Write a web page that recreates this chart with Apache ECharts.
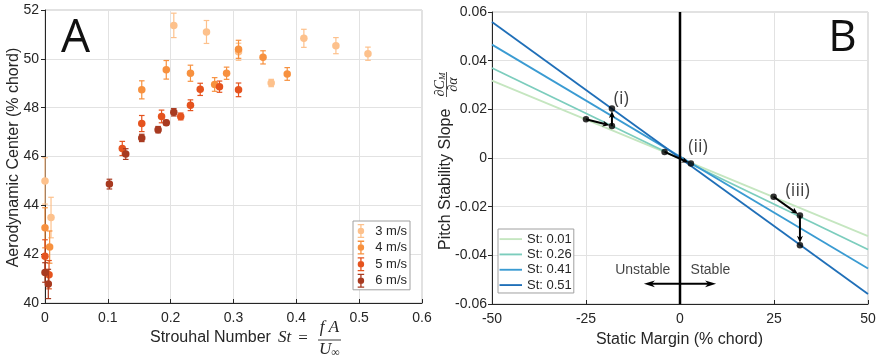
<!DOCTYPE html>
<html><head><meta charset="utf-8">
<script src="https://cdn.jsdelivr.net/npm/echarts@6/dist/echarts.min.js"></script>
<style>html,body{margin:0;padding:0;background:#fff}#c{width:881px;height:363px}</style>
</head><body><div id="c"></div>
<script>
// ---------- Panel A data ----------
const speedNames = ['3 m/s', '4 m/s', '5 m/s', '6 m/s'];
const st3  = [0, 0.0096, 0.205, 0.257, 0.308, 0.360, 0.412, 0.463, 0.514];
const ac3  = [45.0, 43.5, 51.37, 51.1, 50.29, 49.01, 50.84, 50.54, 50.21];
const err3 = [0.95, 0.83, 0.5, 0.47, 0.35, 0.15, 0.37, 0.33, 0.27];
const st4  = [0, 0.0074, 0.154, 0.193, 0.2315, 0.270, 0.289, 0.308, 0.347, 0.3855];
const ac4  = [43.08, 42.29, 48.73, 49.55, 49.41, 48.95, 49.41, 50.39, 50.06, 49.38];
const err4 = [0.82, 0.66, 0.37, 0.38, 0.33, 0.28, 0.25, 0.37, 0.27, 0.26];
const st5  = [0, 0.0064, 0.123, 0.154, 0.1855, 0.216, 0.2315, 0.247, 0.2777, 0.308];
const ac5  = [41.91, 41.16, 46.33, 47.35, 47.64, 47.64, 48.10, 48.75, 48.86, 48.73];
const err5 = [0.68, 0.58, 0.29, 0.33, 0.26, 0.14, 0.22, 0.25, 0.23, 0.28];
const st6  = [0, 0.0053, 0.1025, 0.1285, 0.154, 0.180, 0.193, 0.205];
const ac6  = [41.25, 40.78, 44.87, 46.10, 46.76, 47.10, 47.38, 47.81];
const err6 = [0.4, 0.6, 0.2, 0.22, 0.15, 0.13, 0.1, 0.15];
const xTicksA = [0, 0.1, 0.2, 0.3, 0.4, 0.5, 0.6];
const yTicksA = [40, 42, 44, 46, 48, 50, 52];

// ---------- Panel B data ----------
const stNames = ['St: 0.01', 'St: 0.26', 'St: 0.41', 'St: 0.51'];
const marginEnds = [-50, 50];
const slopeLeft  = [0.0318, 0.0370, 0.0466, 0.0559];
const slopeRight = [-0.0321, -0.0376, -0.0454, -0.0559];
const pathI   = [[-25, 0.0159], [-18.1, 0.0132], [-18.1, 0.0203]];
const pathII  = [[-4.1, 0.0025], [2.9, -0.0023]];
const pathIII = [[24.9, -0.0159], [31.9, -0.0236], [31.9, -0.0359]];
const caseLabels = [[-15.6, 0.0244, '(i)'], [4.8, 0.0046, '(ii)'], [31.3, -0.0136, '(iii)']];
const stabilityLabels = [[-9.9, -0.046, 'Unstable'], [8.1, -0.046, 'Stable']];
const stabilityArrow = [[-9.6, -0.0517], [9.6, -0.0517]];
const xTicksB = [-50, -25, 0, 25, 50];
const yTicksB = [-0.06, -0.04, -0.02, 0, 0.02, 0.04, 0.06];

// ---------- styling ----------
const FONT = '"Liberation Sans", Arial, sans-serif';
const SERIF = '"Liberation Serif", "Times New Roman", serif';
const TXT = '#262626';
const GRIDC = '#e2e2e2';
const speedColors = ['#fdc18c', '#f7913f', '#e5531e', '#a83a20'];
const stColors = ['#c5e6c0', '#7ccdbd', '#3a9bd2', '#1f6fb8'];
const ebIcon = 'path://M0,0H6V1.2H0Z M2.4,1.2H3.6V11.8H2.4Z M0,11.8H6V13H0Z M6,6.5A3,3,0,1,1,0,6.5A3,3,0,1,1,6,6.5Z';
const lineIcon = 'path://M0,0H24V2H0Z';

const chart = echarts.init(document.getElementById('c'), null, {renderer: 'canvas'});

function errRender(params, api) {
  const x = api.value(0), lo = api.value(1), hi = api.value(2);
  const p1 = api.coord([x, hi]), p2 = api.coord([x, lo]);
  const hw = 2.8;
  const style = {stroke: api.visual('color'), lineWidth: 1.2, fill: null};
  return {type: 'group', children: [
    {type: 'line', shape: {x1: p1[0], y1: p1[1], x2: p2[0], y2: p2[1]}, style: style},
    {type: 'line', shape: {x1: p1[0] - hw, y1: p1[1], x2: p1[0] + hw, y2: p1[1]}, style: style},
    {type: 'line', shape: {x1: p2[0] - hw, y1: p2[1], x2: p2[0] + hw, y2: p2[1]}, style: style}
  ]};
}

function head(t, ux, uy, len, w) {
  const nx = -uy, ny = ux;
  const b = [t[0] - ux * len, t[1] - uy * len];
  const n = [t[0] - ux * len * 0.72, t[1] - uy * len * 0.72];
  return {type: 'polygon', shape: {points: [t, [b[0] + nx * w, b[1] + ny * w], n, [b[0] - nx * w, b[1] - ny * w]]},
          style: {fill: '#000'}};
}

function arrowRender(params, api) {
  const p1 = api.coord([api.value(0), api.value(1)]);
  const p2 = api.coord([api.value(2), api.value(3)]);
  const dbl = api.value(4) === 1;
  const dx = p2[0] - p1[0], dy = p2[1] - p1[1], L = Math.hypot(dx, dy);
  const ux = dx / L, uy = dy / L;
  const len = dbl ? 11 : 7, w = dbl ? 3.4 : 3;
  const gap = dbl ? 0 : 2.5;
  const tip = [p2[0] - ux * gap, p2[1] - uy * gap];
  const start = dbl ? [p1[0] + ux * len * 0.7, p1[1] + uy * len * 0.7] : p1;
  const end = [tip[0] - ux * len * 0.7, tip[1] - uy * len * 0.7];
  const children = [
    {type: 'line', shape: {x1: start[0], y1: start[1], x2: end[0], y2: end[1]}, style: {stroke: '#000', lineWidth: 2}},
    head(tip, ux, uy, len, w)
  ];
  if (dbl) children.push(head(p1, -ux, -uy, len, w));
  return {type: 'group', children: children};
}

function segs(path) {
  const out = [];
  for (let i = 0; i < path.length - 1; i++) out.push([path[i][0], path[i][1], path[i + 1][0], path[i + 1][1], 0]);
  return out;
}

const speedSets = [[st3, ac3, err3], [st4, ac4, err4], [st5, ac5, err5], [st6, ac6, err6]];
const series = [];
speedSets.forEach(function (s, i) {
  series.push({
    type: 'custom', name: speedNames[i], xAxisIndex: 0, yAxisIndex: 0, renderItem: errRender,
    itemStyle: {color: speedColors[i]}, encode: {x: 0, y: [1, 2]}, clip: false, z: 2 + i * 2,
    data: s[0].map(function (x, j) { return [x, s[1][j] - s[2][j], s[1][j] + s[2][j]]; })
  });
  series.push({
    type: 'scatter', name: speedNames[i], xAxisIndex: 0, yAxisIndex: 0, symbol: 'circle', symbolSize: 7.5,
    itemStyle: {color: speedColors[i], opacity: 1}, clip: false, z: 3 + i * 2,
    data: s[0].map(function (x, j) { return [x, s[1][j]]; })
  });
});

stNames.forEach(function (n, i) {
  series.push({
    type: 'line', name: n, xAxisIndex: 1, yAxisIndex: 1, symbol: 'none', showSymbol: false,
    lineStyle: {color: stColors[i], width: 1.8}, itemStyle: {color: stColors[i]}, z: 2,
    data: [[marginEnds[0], slopeLeft[i]], [marginEnds[1], slopeRight[i]]]
  });
});
series.push({
  type: 'line', xAxisIndex: 1, yAxisIndex: 1, symbol: 'none', lineStyle: {color: '#000', width: 2.5}, z: 3,
  data: [[0, yTicksB[0]], [0, yTicksB[yTicksB.length - 1]]], silent: true
});
series.push({
  type: 'custom', xAxisIndex: 1, yAxisIndex: 1, renderItem: arrowRender, encode: {x: [0, 2], y: [1, 3]}, z: 4,
  data: segs(pathI).concat(segs(pathII), segs(pathIII),
        [[stabilityArrow[0][0], stabilityArrow[0][1], stabilityArrow[1][0], stabilityArrow[1][1], 1]])
});
series.push({
  type: 'scatter', xAxisIndex: 1, yAxisIndex: 1, symbol: 'circle', symbolSize: 6.5, itemStyle: {color: '#000'}, z: 5,
  data: pathI.concat(pathII, pathIII)
});
series.push({
  type: 'scatter', xAxisIndex: 1, yAxisIndex: 1, symbolSize: 0, z: 6, silent: true,
  label: {show: true, position: 'inside', formatter: function (p) { return p.value[2]; },
          fontFamily: '"Open Sans", sans-serif', fontSize: 18, color: '#111'},
  data: caseLabels
});
series.push({
  type: 'scatter', xAxisIndex: 1, yAxisIndex: 1, symbolSize: 0, z: 6, silent: true,
  label: {show: true, position: 'inside', formatter: function (p) { return p.value[2]; },
          fontFamily: FONT, fontSize: 14, color: '#111'},
  data: stabilityLabels
});

function axisCommon(isY) {
  return {
    axisLine: {show: true, onZero: false, lineStyle: {color: TXT, width: 1}},
    axisTick: {show: true, inside: !isY, length: 4, lineStyle: {color: TXT}},
    splitLine: {show: true, lineStyle: {color: GRIDC, width: 1}},
    axisLabel: {color: TXT, fontFamily: FONT, fontSize: 14, margin: isY ? 6 : 8, showMinLabel: true, showMaxLabel: true}
  };
}

const xA = Object.assign(axisCommon(false), {type: 'value', gridIndex: 0, min: xTicksA[0], max: xTicksA[xTicksA.length - 1], interval: 0.1});
xA.axisLabel.formatter = function (v) { return v === 0 ? '0' : v.toFixed(1); };
const yA = Object.assign(axisCommon(true), {type: 'value', gridIndex: 0, min: yTicksA[0], max: yTicksA[yTicksA.length - 1], interval: 2});
const xB = Object.assign(axisCommon(false), {type: 'value', gridIndex: 1, min: xTicksB[0], max: xTicksB[xTicksB.length - 1], interval: 25});
const yB = Object.assign(axisCommon(true), {type: 'value', gridIndex: 1, min: yTicksB[0], max: yTicksB[yTicksB.length - 1], interval: 0.02});
yB.axisLabel.margin = 5;
yB.axisLabel.formatter = function (v) { return Math.abs(v) < 1e-9 ? '0' : v.toFixed(2); };

const option = {
  animation: false,
  backgroundColor: '#fff',
  grid: [
    {left: 45, top: 10, width: 377, height: 293, show: true, borderColor: '#c4c4c4', borderWidth: 1, backgroundColor: 'transparent', outerBoundsMode: 'none', containLabel: false},
    {left: 492, top: 12, width: 376, height: 292, show: true, borderColor: '#c4c4c4', borderWidth: 1, backgroundColor: 'transparent', outerBoundsMode: 'none', containLabel: false}
  ],
  xAxis: [xA, xB],
  yAxis: [yA, yB],
  legend: [
    {orient: 'vertical', left: 353, top: 221, padding: [3, 3, 2, 4.7], itemGap: 2.6, itemWidth: 18.6, itemHeight: 14,
     borderColor: '#a0a0a0', borderWidth: 1, backgroundColor: '#fff', selectedMode: false,
     textStyle: {fontSize: 13, fontFamily: FONT, color: TXT},
     data: speedNames.map(function (n) { return {name: n, icon: ebIcon}; })},
    {orient: 'vertical', left: 498, top: 229, padding: [3.6, 2, 1.4, 1.5], itemGap: 2.33, itemWidth: 22.5, itemHeight: 14,
     borderColor: '#a0a0a0', borderWidth: 1, backgroundColor: '#fff', selectedMode: false,
     textStyle: {fontSize: 13, fontFamily: FONT, color: TXT},
     data: stNames.map(function (n) { return {name: n, icon: lineIcon}; })}
  ],
  graphic: [
    {type: 'text', x: 61, y: 38.5, style: {text: 'A', fontFamily: '"Open Sans", sans-serif', fontSize: 46, fill: '#111', align: 'left', verticalAlign: 'middle'}},
    {type: 'text', x: 842.5, y: 38.5, style: {text: 'B', fontFamily: '"Open Sans", sans-serif', fontSize: 44, fill: '#111', align: 'center', verticalAlign: 'middle'}},
    {type: 'text', x: 13.5, y: 157.5, rotation: Math.PI / 2,
     style: {text: 'Aerodynamic Center (% chord)', fontFamily: FONT, fontSize: 16, fill: TXT, align: 'center', verticalAlign: 'middle'}},
    {type: 'text', x: 150, y: 338, style: {text: 'Strouhal Number', fontFamily: FONT, fontSize: 16, fill: TXT, align: 'left', verticalAlign: 'middle'}},
    {type: 'text', x: 278, y: 338, style: {text: 'St', fontFamily: SERIF, fontStyle: 'italic', fontSize: 17, fill: TXT, align: 'left', verticalAlign: 'middle'}},
    {type: 'text', x: 303, y: 338.5, style: {text: '=', fontFamily: SERIF, fontSize: 17, fill: TXT, align: 'center', verticalAlign: 'middle'}},
    {type: 'line', shape: {x1: 318, y1: 340, x2: 341, y2: 340}, style: {stroke: TXT, lineWidth: 0.9}},
    {type: 'text', x: 329.5, y: 328, style: {text: 'f A', fontFamily: SERIF, fontStyle: 'italic', fontSize: 17, fill: TXT, align: 'center', verticalAlign: 'middle'}},
    {type: 'text', x: 329.5, y: 350, style: {text: '{u|U}{s|∞}', fill: TXT, align: 'center', verticalAlign: 'middle',
      rich: {u: {fontFamily: SERIF, fontStyle: 'italic', fontSize: 17, fill: TXT}, s: {fontFamily: SERIF, fontSize: 12, fill: TXT, padding: [6, 0, 0, 0]}}}},
    {type: 'text', x: 679.5, y: 340, style: {text: 'Static Margin (% chord)', fontFamily: FONT, fontSize: 16, fill: TXT, align: 'center', verticalAlign: 'middle'}},
    {type: 'group', x: 446, y: 250, rotation: Math.PI / 2, children: [
      {type: 'text', x: 0, y: -0.5, style: {text: 'Pitch Stability Slope', fontFamily: FONT, fontSize: 16, fill: TXT, align: 'left', verticalAlign: 'middle'}},
      {type: 'line', shape: {x1: 153, y1: 0.5, x2: 178, y2: 0.5}, style: {stroke: TXT, lineWidth: 0.8}},
      {type: 'text', x: 165.5, y: -6, style: {text: '{a|∂C}{s|M}', fill: TXT, align: 'center', verticalAlign: 'middle',
        rich: {a: {fontFamily: SERIF, fontStyle: 'italic', fontSize: 14, fill: TXT}, s: {fontFamily: SERIF, fontStyle: 'italic', fontSize: 9, fill: TXT, padding: [6, 0, 0, 0]}}}},
      {type: 'text', x: 165.5, y: 7.5, style: {text: '∂α', fontFamily: SERIF, fontStyle: 'italic', fontSize: 14, fill: TXT, align: 'center', verticalAlign: 'middle'}}
    ]}
  ],
  series: series
};
chart.setOption(option);
</script>
</body></html>
